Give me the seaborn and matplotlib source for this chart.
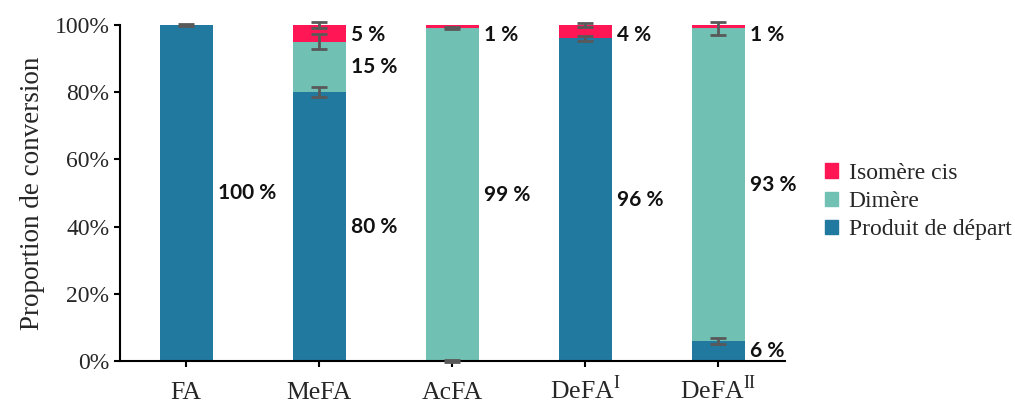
import numpy as np
import pandas as pd
import matplotlib
matplotlib.use("Agg")
import matplotlib.pyplot as plt
import seaborn as sns
from matplotlib.ticker import FuncFormatter
from matplotlib.patches import Patch

categories = ["FA", "MeFA", "AcFA", r"DeFA$^{\mathrm{I}}$", r"DeFA$^{\mathrm{II}}$"]
start_vals = [100, 80, 0, 96, 6]    # Produit de départ
dimer_vals = [0, 15, 99, 0, 93]     # Dimère
cis_vals = [0, 5, 1, 4, 1]          # Isomère cis
start_err = [0.3, 1.5, 0.3, 0.7, 1.0]
dimer_err = [np.nan, 2.2, 0.3, np.nan, 1.9]
cis_err = [np.nan, 1.0, np.nan, 0.5, np.nan]
series_names = ["Isomère cis", "Dimère", "Produit de départ"]

c_start = "#21799f"
c_dimer = "#70c1b3"
c_cis = "#ff1654"

sns.set_style("ticks")
plt.rcParams["font.family"] = ["Liberation Serif", "DejaVu Serif"]
plt.rcParams["mathtext.fontset"] = "custom"
plt.rcParams["mathtext.rm"] = "Liberation Serif"

df = pd.DataFrame({"cat": categories, "start": start_vals, "dimer": dimer_vals, "cis": cis_vals})
df["lvl1"] = df["start"]
df["lvl2"] = df["start"] + df["dimer"]
df["lvl3"] = df["lvl2"] + df["cis"]

fig = plt.figure(figsize=(10.15, 4.03), dpi=100)
ax = fig.add_axes([0.118, 0.104, 0.655, 0.834])

# stacked bars drawn as overlapping cumulative totals
for lvl, col in [("lvl3", c_cis), ("lvl2", c_dimer), ("lvl1", c_start)]:
    sns.barplot(data=df, x="cat", y=lvl, color=col, saturation=1, width=0.4,
                linewidth=0, ax=ax)

pos = np.arange(len(categories))
for lvl, err in [("lvl1", start_err), ("lvl2", dimer_err), ("lvl3", cis_err)]:
    ax.errorbar(pos, df[lvl], yerr=err, fmt="none", ecolor="#595959",
                elinewidth=2, capsize=5.5, capthick=2, clip_on=False, zorder=5)

# value labels to the right of each bar
for i in range(len(categories)):
    bottom = 0
    for col in ["start", "dimer", "cis"]:
        v = df[col][i]
        if v > 0:
            top = bottom + v
            y = top - 3 if v < 10 else bottom + v / 2
            ax.text(i + 0.24, y, f"{v} %", fontsize=15, fontweight="bold",
                    family=["Lato", "DejaVu Sans"], color="#111111", va="center", ha="left")
            bottom = top

ax.set_ylim(0, 100)
ax.set_xlim(-0.5, 4.5)
ax.set_yticks(range(0, 101, 20))
ax.yaxis.set_major_formatter(FuncFormatter(lambda v, p: f"{v:.0f}%"))
ax.set_xlabel("")
ax.set_ylabel("Proportion de conversion", fontsize=19.5, labelpad=7)
ax.tick_params(axis="both", labelsize=17, length=4, width=1.5, color="black")
ax.tick_params(axis="x", labelsize=18.5, pad=23.5)
for lab in ax.get_xticklabels():
    lab.set_verticalalignment("baseline")
for s in ["left", "bottom"]:
    ax.spines[s].set_linewidth(1.5)
    ax.spines[s].set_color("black")
sns.despine(ax=ax)

handles = [Patch(color=c_cis), Patch(color=c_dimer), Patch(color=c_start)]
fig.legend(handles, series_names, loc="center left", bbox_to_anchor=(0.813, 0.5),
           frameon=False, fontsize=17, handlelength=0.55, handleheight=0.55,
           handletextpad=0.45, labelspacing=0.3, borderpad=0, borderaxespad=0)

fig.savefig("out.png", dpi=100)
